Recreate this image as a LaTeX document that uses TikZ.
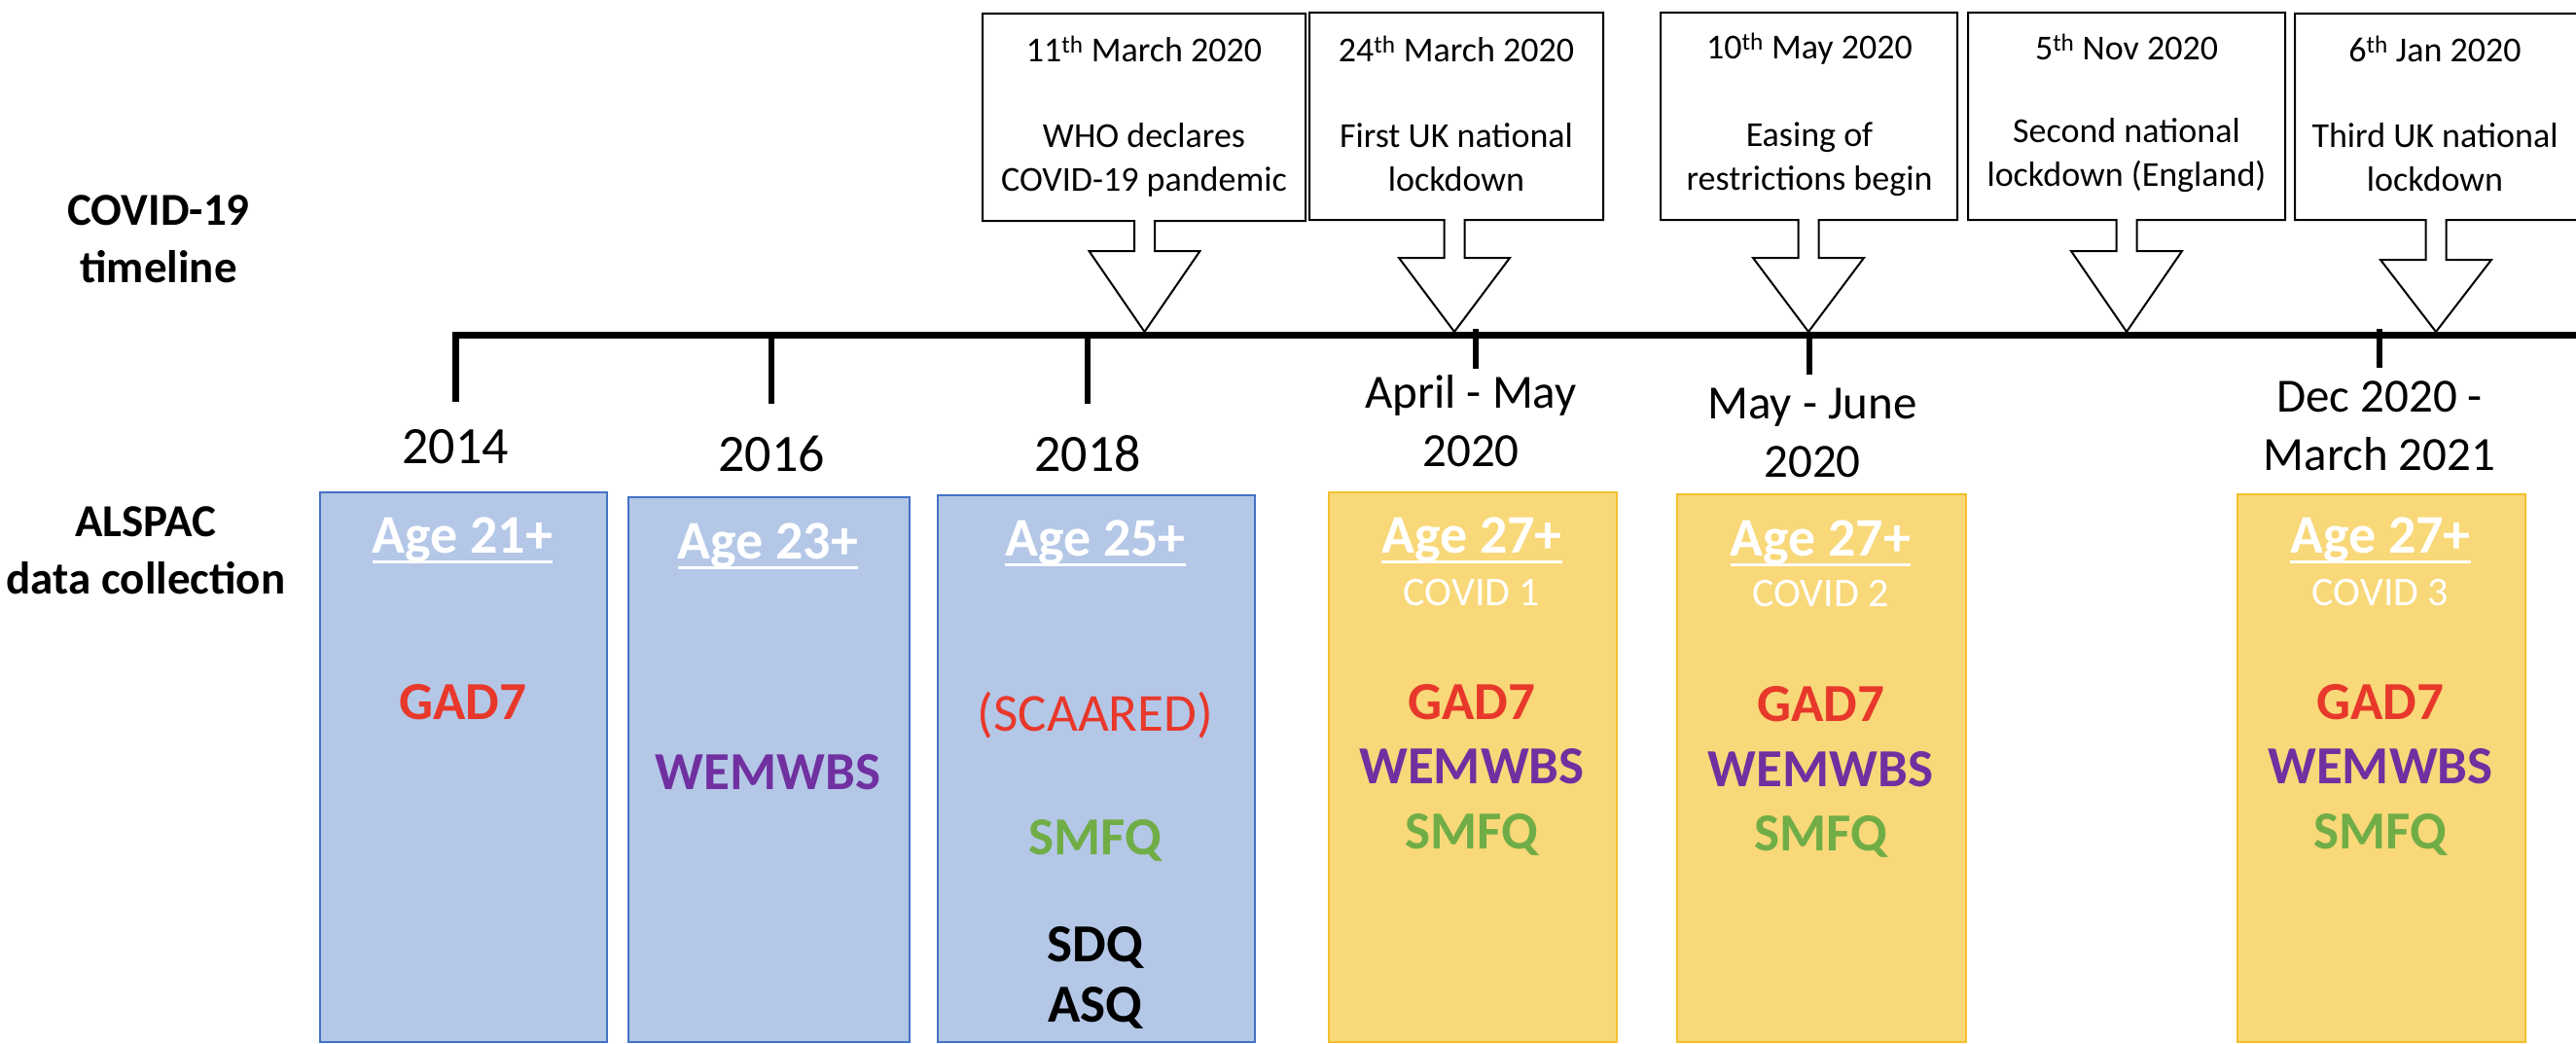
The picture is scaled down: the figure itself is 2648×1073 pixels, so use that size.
\documentclass[tikz,border=0pt]{standalone}
\usepackage{fontspec}
\setmainfont{Carlito}
\definecolor{fillblue}{HTML}{B4C7E7}
\definecolor{lineblue}{HTML}{4472C4}
\definecolor{fillyellow}{HTML}{F8D878}
\definecolor{lineyellow}{HTML}{F5C02E}
\definecolor{mred}{HTML}{E8382B}
\definecolor{mpurple}{HTML}{7030A0}
\definecolor{mgreen}{HTML}{70AD47}
\newcommand\thickul[1]{\setbox0=\hbox{#1}\vtop{\copy0\kern-\dp0\kern8pt\hrule height3pt width\wd0}}
% callout: #1 left, #2 right, #3 top, #4 bottom, #5 arrow centre x, #6 head top y
\newcommand\eventcallout[6]{%
  \draw[calloutshape] (#1,#3) -- (#2,#3) -- (#2,#4) -- (#5+10.5,#4) -- (#5+10.5,#6)
    -- (#5+57,#6) -- (#5,341) -- (#5-57,#6) -- (#5-10.5,#6) -- (#5-10.5,#4)
    -- (#1,#4) -- cycle;}
\tikzset{
  calloutshape/.style={draw=black, line width=2pt, fill=white, line join=miter},
  evdate/.style={font=\fontsize{36}{45}\selectfont, inner sep=0pt},
  evtxt/.style={font=\fontsize{36}{45}\selectfont, align=center, inner sep=0pt},
  yearlbl/.style={font=\fontsize{54}{60}\selectfont, inner sep=0pt},
  periodlbl/.style={font=\fontsize{49}{60}\selectfont, align=center, inner sep=0pt},
  sidelbl/.style={font=\bfseries\fontsize{47}{59}\selectfont, align=center, inner sep=0pt},
  bluebox/.style={draw=lineblue, fill=fillblue, line width=2pt, anchor=north west, inner sep=0pt},
  yellowbox/.style={draw=lineyellow, fill=fillyellow, line width=2pt, anchor=north west, inner sep=0pt},
  agelbl/.style={text=white, font=\bfseries\fontsize{56}{60}\selectfont, inner sep=0pt, anchor=base},
  wavelbl/.style={text=white, font=\fontsize{42}{50}\selectfont, inner sep=0pt},
  measure/.style={font=\bfseries\fontsize{55}{60}\selectfont, inner sep=0pt},
  measurereg/.style={font=\fontsize{55}{60}\selectfont, inner sep=0pt},
  tlline/.style={line width=7pt, line join=miter},
  tltick/.style={line width=6pt}
}
\begin{document}
\begin{tikzpicture}[x=1pt,y=-1pt]
\useasboundingbox (0,0) rectangle (2648,1073);
\fill[white] (0,0) rectangle (2648,1073);

% side labels
\node[sidelbl] (lblcovid) at (163,246) {COVID-19\\timeline};
\node[sidelbl] (lblalspac) at (150,566) {ALSPAC\\data collection};

% timeline
\coordinate (tlcorner) at (468,344.5);
\coordinate (tlend) at (2652,344.5);
\coordinate (t2014) at (468,413);
\draw[tlline] (t2014) -- (tlcorner) -- (tlend);
\draw[tltick] (793,344.5) -- (793,415);
\draw[tltick] (1118,344.5) -- (1118,415);
\draw[tltick] (1517,338) -- (1517,379);
\draw[tltick] (1860,341) -- (1860,385);
\draw[tltick] (2446,338) -- (2446,378);

% event callouts
\eventcallout{1010}{1342}{14}{227}{1176.5}{258}
\eventcallout{1346}{1648}{13}{226}{1495}{265}
\eventcallout{1707}{2012}{13}{226}{1859}{265}
\eventcallout{2023}{2349}{13}{226}{2186}{258}
\eventcallout{2359}{2656}{14}{226}{2504}{267}

\node[evdate] (ev1d) at (1176,50) {11\textsuperscript{th} March 2020};
\node[evtxt]  (ev1t) at (1176,164) {WHO declares\\COVID-19 pandemic};
\node[evdate] (ev2d) at (1497,50) {24\textsuperscript{th} March 2020};
\node[evtxt]  (ev2t) at (1497,162) {First UK national\\lockdown};
\node[evdate] (ev3d) at (1860,50) {10\textsuperscript{th} May 2020};
\node[evtxt]  (ev3t) at (1860,164) {Easing of\\restrictions begin};
\node[evdate] (ev4d) at (2186,48) {5\textsuperscript{th} Nov 2020};
\node[evtxt]  (ev4t) at (2186,160) {Second national\\lockdown (England)};
\node[evdate] (ev5d) at (2503,50) {6\textsuperscript{th} Jan 2020};
\node[evtxt]  (ev5t) at (2503,162) {Third UK national\\lockdown};

% year / period labels
\node[yearlbl] (y2014) at (468,459) {2014};
\node[yearlbl] (y2016) at (793,466) {2016};
\node[yearlbl] (y2018) at (1118,466) {2018};
\node[periodlbl] (pAM) at (1512,433) {April - May\\2020};
\node[periodlbl] (pMJ) at (1863,445) {May - June\\2020};
\node[periodlbl] (pDM) at (2446,438) {Dec 2020 -\\March 2021};

% data collection boxes
\node[bluebox, minimum width=295pt, minimum height=565pt] (boxA) at (328,505) {};
\node[bluebox, minimum width=289pt, minimum height=560pt] (boxB) at (645,510) {};
\node[bluebox, minimum width=326pt, minimum height=562pt] (boxC) at (963,508) {};
\node[yellowbox, minimum width=296pt, minimum height=565pt] (boxD) at (1365,505) {};
\node[yellowbox, minimum width=297pt, minimum height=563pt] (boxE) at (1723,507) {};
\node[yellowbox, minimum width=296pt, minimum height=563pt] (boxF) at (2299,507) {};

% box A
\node[agelbl] (ageA) at (475.5,568) {\thickul{Age 21+}};
\node[measure, text=mred] (gadA) at (475.5,722) {GAD7};
% box B
\node[agelbl] (ageB) at (789.5,574) {\thickul{Age 23+}};
\node[measure, text=mpurple] (wemB) at (789.5,794) {WEMWBS};
% box C
\node[agelbl] (ageC) at (1126,571) {\thickul{Age 25+}};
\node[measurereg, text=mred] (scaC) at (1126,735) {(SCAARED)};
\node[measure, text=mgreen] (smfC) at (1126,864) {SMFQ};
\node[measure, text=black] (sdqC) at (1126,974) {SDQ};
\node[measure, text=black] (asqC) at (1126,1036) {ASQ};
% box D
\node[agelbl] (ageD) at (1513,568) {\thickul{Age 27+}};
\node[wavelbl] (wavD) at (1513,609) {COVID 1};
\node[measure, text=mred] (gadD) at (1513,722) {GAD7};
\node[measure, text=mpurple] (wemD) at (1513,788) {WEMWBS};
\node[measure, text=mgreen] (smfD) at (1513,858) {SMFQ};
% box E
\node[agelbl] (ageE) at (1871.5,571) {\thickul{Age 27+}};
\node[wavelbl] (wavE) at (1871.5,610) {COVID 2};
\node[measure, text=mred] (gadE) at (1871.5,724) {GAD7};
\node[measure, text=mpurple] (wemE) at (1871.5,791) {WEMWBS};
\node[measure, text=mgreen] (smfE) at (1871.5,860) {SMFQ};
% box F
\node[agelbl] (ageF) at (2447,568) {\thickul{Age 27+}};
\node[wavelbl] (wavF) at (2447,609) {COVID 3};
\node[measure, text=mred] (gadF) at (2447,722) {GAD7};
\node[measure, text=mpurple] (wemF) at (2447,788) {WEMWBS};
\node[measure, text=mgreen] (smfF) at (2447,858) {SMFQ};
\end{tikzpicture}
\end{document}
